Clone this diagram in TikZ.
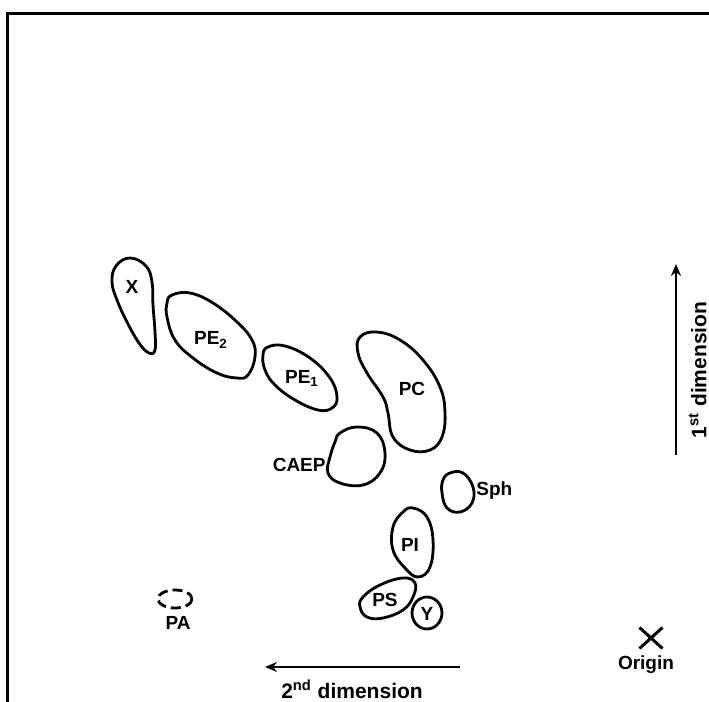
\documentclass[tikz,border=0pt]{standalone}
\usepackage{fontspec}
\setmainfont{Liberation Sans}
\usetikzlibrary{arrows.meta,shapes.misc}

\begin{document}
\begin{tikzpicture}[x=0.5pt, y=-0.5pt,
    blob/.style={line width=1.4pt, line join=round},
    lbl/.style={font=\fontsize{9.5}{11}\selectfont\bfseries, inner sep=1pt},
    dimlbl/.style={font=\fontsize{10.5}{12}\selectfont\bfseries, inner sep=1pt},
    axis/.style={line width=1.2pt, -{Stealth[length=6pt, width=5pt]}}]
    \useasboundingbox (0,0) rectangle (709,702);

    % Frame (top and left only)
    \draw[line width=1.5pt] (8,702) -- (8,13) -- (709,13);

    % Group outlines
    \draw[blob] plot[smooth cycle, tension=0.7] coordinates {
        (130,258) (146,266) (152,282) (153,305) (155,332) (155,350) (149,353)
        (139,343) (127,322) (117,300) (112,282) (116,266)};
    \draw[blob] plot[smooth cycle, tension=0.7] coordinates {
        (172,295) (190,293) (213,303) (237,322) (252,340) (255,357) (248,375)
        (237,378) (217,373) (193,358) (175,340) (167,317) (167,303)};
    \draw[blob] plot[smooth cycle, tension=0.7] coordinates {
        (268,347) (285,346) (310,358) (330,378) (337,397) (332,408) (318,410)
        (295,400) (275,385) (265,370) (263,355)};
    \draw[blob] plot[smooth cycle, tension=0.7] coordinates {
        (360,337) (377,332) (400,340) (423,360) (440,387) (445,413) (442,437)
        (430,450) (410,450) (393,437) (388,413) (383,397) (367,373) (358,353)};
    \draw[blob] plot[smooth cycle, tension=0.7] coordinates {
        (340,433) (357,427) (377,433) (385,453) (380,473) (363,485) (340,483)
        (328,473) (330,457) (335,442)};
    \draw[blob] plot[smooth cycle, tension=0.7] coordinates {
        (450,473) (463,473) (473,487) (472,503) (460,512) (447,508) (442,493)
        (443,480)};
    \draw[blob] plot[smooth cycle, tension=0.7] coordinates {
        (413,508) (427,517) (433,540) (430,567) (418,577) (405,568) (393,550)
        (393,527) (403,512)};
    \draw[blob] plot[smooth cycle, tension=0.7] coordinates {
        (363,597) (380,585) (403,578) (415,583) (413,597) (403,610) (383,618)
        (367,617) (360,607)};
    \draw[blob] (427,613) ellipse [x radius=15, y radius=16];
    \draw[blob, dashed, dash pattern=on 5pt off 2.5pt] (175,599) ellipse [x radius=17, y radius=9];

    % Labels
    \node[lbl] (x) at (132,287) {X};
    \node[lbl] (pe2) at (211,340) {PE\textsubscript{2}};
    \node[lbl] (pe1) at (302,378) {PE\textsubscript{1}};
    \node[lbl] (pc) at (412,389) {PC};
    \node[lbl, anchor=east] (caep) at (328,465) {CAEP};
    \node[lbl, anchor=west] (sph) at (474,491) {Sph};
    \node[lbl] (pi) at (410,545) {PI};
    \node[lbl] (ps) at (385,600) {PS};
    \node[lbl] (y) at (427,614) {Y};
    \node[lbl] (pa) at (178,623) {PA};

    % Origin
    \node[draw, cross out, line width=1.5pt, minimum width=10pt, minimum height=9pt, inner sep=0pt] (orig) at (651,638) {};
    \node[lbl] (origin) at (646,665) {Origin};

    % Axes
    \coordinate (d2a) at (460,667);
    \coordinate (d2b) at (265,667);
    \draw[axis] (d2a) -- (d2b);
    \node[dimlbl] (dim2) at (352,689) {2\textsuperscript{nd} dimension};

    \coordinate (d1a) at (676,455);
    \coordinate (d1b) at (676,264);
    \draw[axis] (d1a) -- (d1b);
    \node[dimlbl, rotate=90, inner sep=0pt, anchor=south] (dim1) at (707,370) {1\textsuperscript{st} dimension};
\end{tikzpicture}
\end{document}
